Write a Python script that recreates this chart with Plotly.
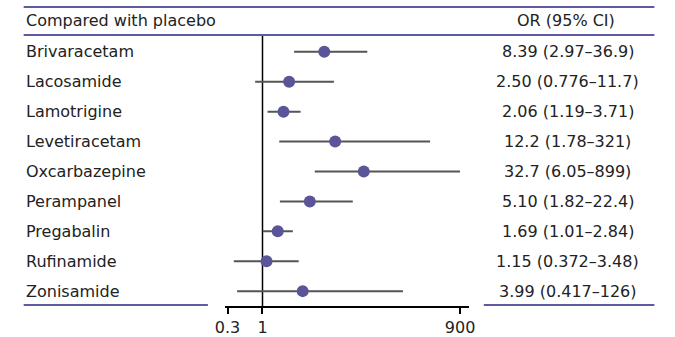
import plotly.graph_objects as go
import numpy as np

drugs = ["Brivaracetam", "Lacosamide", "Lamotrigine", "Levetiracetam", "Oxcarbazepine",
         "Perampanel", "Pregabalin", "Rufinamide", "Zonisamide"]
odds = [8.39, 2.50, 2.06, 12.2, 32.7, 5.10, 1.69, 1.15, 3.99]
lower = [2.97, 0.776, 1.19, 1.78, 6.05, 1.82, 1.01, 0.372, 0.417]
upper = [36.9, 11.7, 3.71, 321, 899, 22.4, 2.84, 3.48, 126]
or_text = ["8.39 (2.97–36.9)", "2.50 (0.776–11.7)", "2.06 (1.19–3.71)", "12.2 (1.78–321)",
           "32.7 (6.05–899)", "5.10 (1.82–22.4)", "1.69 (1.01–2.84)", "1.15 (0.372–3.48)",
           "3.99 (0.417–126)"]
tick_vals = [0.3, 1, 900]
tick_text = ["0.3", "1", "900"]

W, H = 675, 337
FONT = "DejaVu Sans"
FS = 16
TXT = "#222222"
PURPLE = "#5f5ba3"
DOT = "#5a5499"

def px_x(p):
    return p / W

def px_y(p):
    return 1 - p / H

odds_a = np.array(odds)
fig = go.Figure()
fig.add_trace(go.Scatter(
    x=odds, y=list(range(len(drugs))), mode="markers",
    marker=dict(size=12, color=DOT),
    error_x=dict(type="data", symmetric=False,
                 array=list(np.array(upper) - odds_a),
                 arrayminus=list(odds_a - np.array(lower)),
                 width=0, thickness=2, color="#555555"),
    hoverinfo="skip", showlegend=False, cliponaxis=False,
))

# log axis: 1 at px 259, 68.6 px per decade; domain px 220..470
k = 68.6
x0_px, x1_px, one_px = 220, 470, 258
fig.update_layout(
    width=W, height=H, margin=dict(l=0, r=0, t=0, b=0),
    paper_bgcolor="white", plot_bgcolor="white",
    font=dict(family=FONT, size=FS, color=TXT),
    xaxis=dict(type="log", domain=[px_x(x0_px), px_x(x1_px)],
               range=[(x0_px - one_px) / k, (x1_px - one_px) / k],
               tickvals=tick_vals, ticktext=tick_text,
               showgrid=False, zeroline=False, showline=True, linecolor="black", linewidth=1.5,
               ticks="outside", ticklen=6, tickwidth=1.5, tickcolor="black",
               tickfont=dict(size=FS, color=TXT, family=FONT)),
    yaxis=dict(domain=[px_y(307), px_y(37)], range=[len(drugs) - 0.5, -0.5],
               showticklabels=False, showgrid=False, zeroline=False, showline=False),
)

ann = []
for i, d in enumerate(drugs):
    ann.append(dict(x=px_x(13), xref="paper", y=i, yref="y", text=d, showarrow=False,
                    xanchor="left", yanchor="middle", font=dict(size=FS, color=TXT)))
    ann.append(dict(x=px_x(571), xref="paper", y=i, yref="y", text=or_text[i], showarrow=False,
                    xanchor="center", yanchor="middle", font=dict(size=FS, color=TXT)))
ann.append(dict(x=px_x(13), xref="paper", y=px_y(21), yref="paper", text="Compared with placebo",
                showarrow=False, xanchor="left", yanchor="middle", font=dict(size=FS, color=TXT)))
ann.append(dict(x=px_x(569), xref="paper", y=px_y(21), yref="paper", text="OR (95% CI)",
                showarrow=False, xanchor="center", yanchor="middle", font=dict(size=FS, color=TXT)))
fig.update_layout(annotations=ann)

shapes = [
    dict(type="line", xref="paper", yref="paper", x0=px_x(13), x1=px_x(660), y0=px_y(7), y1=px_y(7),
         line=dict(color=PURPLE, width=2)),
    dict(type="line", xref="paper", yref="paper", x0=px_x(13), x1=px_x(660), y0=px_y(35), y1=px_y(35),
         line=dict(color=PURPLE, width=2)),
    dict(type="line", xref="paper", yref="paper", x0=px_x(13), x1=px_x(202), y0=px_y(306), y1=px_y(306),
         line=dict(color=PURPLE, width=2)),
    dict(type="line", xref="paper", yref="paper", x0=px_x(485), x1=px_x(660), y0=px_y(306), y1=px_y(306),
         line=dict(color=PURPLE, width=2)),
    dict(type="line", xref="x", yref="paper", x0=1, x1=1, y0=px_y(307), y1=px_y(36),
         line=dict(color="black", width=1.5), layer="below"),
]
fig.update_layout(shapes=shapes)

fig.write_html("out.html")
